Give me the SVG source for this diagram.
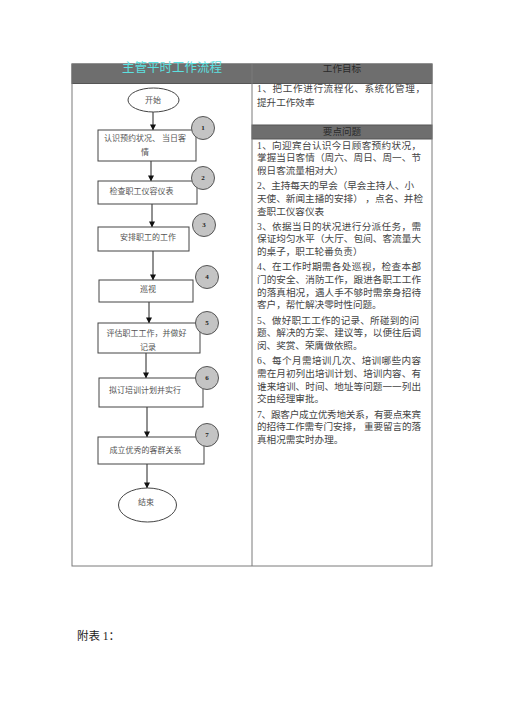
<svg xmlns="http://www.w3.org/2000/svg" width="505" height="714" viewBox="0 0 505 714">
<style>
text{font-family:"Liberation Serif","Noto Sans CJK SC",serif;dominant-baseline:central}
.grid{stroke:#7a7a7a;stroke-width:1;fill:none}
.band{fill:#6e6e6e;stroke:#555;stroke-width:1}
.hd{font-size:9.6px;fill:#2a2a2a;text-anchor:middle}
.title{font-size:12.5px;fill:#5ce0e0;text-anchor:middle}
.rt{font-size:9.6px;fill:#444}
.box{fill:#fff;stroke:#444;stroke-width:1}
.bt{font-size:8px;fill:#555;text-anchor:middle}
.num{fill:#c4c4c4;stroke:#555;stroke-width:1}
.nt{font-size:7px;fill:#222;text-anchor:middle;font-weight:bold}
.ar{stroke:#222;stroke-width:1;fill:none;marker-end:url(#ah)}
</style>
<defs>
<marker id="ah" viewBox="0 0 8 8" refX="7.5" refY="4" markerWidth="6" markerHeight="6" markerUnits="userSpaceOnUse" orient="auto">
<path d="M0,0 L8,4 L0,8 z" fill="#111"/>
</marker>
</defs>
<rect width="505" height="714" fill="#fff"/>
<g id="table">
<rect x="72" y="64" width="360" height="19.5" class="band"/>
<rect x="252" y="125" width="180" height="14" class="band"/>
<rect x="72" y="64" width="360" height="502" class="grid"/>
<line x1="252" y1="64" x2="252" y2="566" class="grid"/>
<text x="172" y="68" class="title">主管平时工作流程</text>
<text x="342" y="68" class="hd">工作目标</text>
<text x="342" y="131.5" class="hd">要点问题</text>
</g>
<g id="goal">
<text x="257" y="88" class="rt" textLength="168">1、把工作进行流程化、系统化管理，</text>
<text x="257" y="102" class="rt">提升工作效率</text>
</g>
<g id="points">
<text x="257" y="145" class="rt" textLength="164">1、向迎宾台认识今日顾客预约状况，</text>
<text x="257" y="157.7" class="rt" textLength="164">掌握当日客情（周六、周日、周一、节</text>
<text x="257" y="170.4" class="rt">假日客流量相对大）</text>
<text x="257" y="185.6" class="rt" textLength="157">2、主持每天的早会（早会主持人、小</text>
<text x="257" y="198.3" class="rt" textLength="166">天使、新闻主播的安排）  ，点名、并检</text>
<text x="257" y="211" class="rt">查职工仪容仪表</text>
<text x="257" y="226.2" class="rt" textLength="164">3、依据当日的状况进行分派任务，需</text>
<text x="257" y="238.9" class="rt" textLength="164">保证均匀水平（大厅、包间、客流量大</text>
<text x="257" y="251.6" class="rt">的桌子，职工轮番负责）</text>
<text x="257" y="266.8" class="rt" textLength="164">4、在工作时期需各处巡视，检查本部</text>
<text x="257" y="279.5" class="rt" textLength="164">门的安全、消防工作，跟进各职工工作</text>
<text x="257" y="292.2" class="rt" textLength="164">的落真相况，遇人手不够时需亲身招待</text>
<text x="257" y="304.9" class="rt">客户，帮忙解决零时性问题。</text>
<text x="257" y="320.1" class="rt" textLength="162">5、做好职工工作的记录、所碰到的问</text>
<text x="257" y="332.8" class="rt" textLength="164">题、解决的方案、建议等，以便往后调</text>
<text x="257" y="345.5" class="rt">闵、奖赏、荣膺做依照。</text>
<text x="257" y="360.7" class="rt" textLength="164">6、每个月需培训几次、培训哪些内容</text>
<text x="257" y="373.4" class="rt" textLength="164">需在月初列出培训计划、培训内容、有</text>
<text x="257" y="386.1" class="rt" textLength="164">谁来培训、时间、地址等问题一一列出</text>
<text x="257" y="398.8" class="rt">交由经理审批。</text>
<text x="257" y="414" class="rt" textLength="164">7、跟客户成立优秀地关系，有要点来宾</text>
<text x="257" y="426.7" class="rt" textLength="164">的招待工作需专门安排，  重要留言的落</text>
<text x="257" y="439.4" class="rt">真相况需实时办理。</text>
</g>
<g id="connectors">
<line x1="153" y1="112" x2="153" y2="130" class="ar"/>
<line x1="151" y1="161" x2="151" y2="181" class="ar"/>
<line x1="152" y1="204" x2="152" y2="227" class="ar"/>
<line x1="153" y1="251" x2="153" y2="280" class="ar"/>
<line x1="149" y1="302" x2="149" y2="323" class="ar"/>
<line x1="146" y1="353" x2="146" y2="378" class="ar"/>
<line x1="147" y1="407" x2="147" y2="437" class="ar"/>
<line x1="147" y1="464" x2="147" y2="488" class="ar"/>
</g>
<g id="start">
<ellipse cx="153.5" cy="100" rx="25.5" ry="12" class="box"/>
<text x="153" y="100" class="bt">开始</text>
</g>
<g id="step1">
<rect x="98" y="130" width="98" height="31" class="box"/>
<text x="145" y="138" class="bt">认识预约状况、 当日客</text>
<text x="145" y="152" class="bt">情</text>
</g>
<g id="step2">
<rect x="98" y="181" width="99" height="23" class="box"/>
<text x="141.5" y="191" class="bt">检查职工仪容仪表</text>
</g>
<g id="step3">
<rect x="98" y="227" width="91" height="24" class="box"/>
<text x="148" y="237" class="bt">安排职工的工作</text>
</g>
<g id="step4">
<rect x="99" y="280" width="94" height="22" class="box"/>
<text x="148" y="289" class="bt">巡视</text>
</g>
<g id="step5">
<rect x="98" y="323" width="102" height="30" class="box"/>
<text x="146.5" y="333" class="bt">评估职工工作，并做好</text>
<text x="148" y="347" class="bt">记录</text>
</g>
<g id="step6">
<rect x="99" y="378" width="104" height="29" class="box"/>
<text x="145" y="390" class="bt">拟订培训计划并实行</text>
</g>
<g id="step7">
<rect x="98" y="437" width="106" height="27" class="box"/>
<text x="145.5" y="450" class="bt">成立优秀的客群关系</text>
</g>
<g id="end">
<ellipse cx="147.5" cy="505" rx="29" ry="17" class="box"/>
<text x="146" y="502" class="bt">结束</text>
</g>
<g id="n1"><circle cx="203" cy="128" r="11.5" class="num"/><text x="203" y="128" class="nt">1</text></g>
<g id="n2"><circle cx="203" cy="178" r="11.5" class="num"/><text x="203" y="178" class="nt">2</text></g>
<g id="n3"><circle cx="204" cy="225" r="11.5" class="num"/><text x="204" y="225" class="nt">3</text></g>
<g id="n4"><circle cx="207" cy="277" r="11.5" class="num"/><text x="207" y="277" class="nt">4</text></g>
<g id="n5"><circle cx="207" cy="323" r="11.5" class="num"/><text x="207" y="323" class="nt">5</text></g>
<g id="n6"><circle cx="207" cy="378" r="11.5" class="num"/><text x="207" y="378" class="nt">6</text></g>
<g id="n7"><circle cx="207" cy="435" r="11.5" class="num"/><text x="207" y="435" class="nt">7</text></g>
<text x="77" y="636" style="font-size:11.5px;fill:#222">附表 1：</text>
</svg>
